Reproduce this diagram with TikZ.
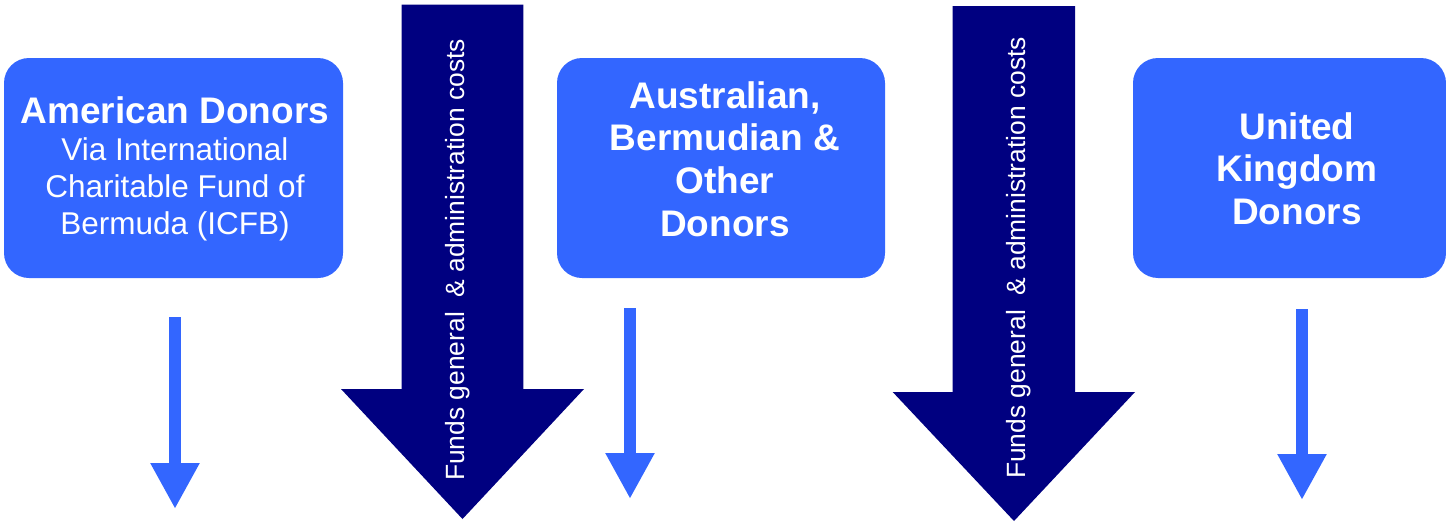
\documentclass[tikz,border=0pt]{standalone}
\usepackage{fontspec}
\setmainfont{Liberation Sans}
\usetikzlibrary{arrows.meta}
\definecolor{boxblue}{HTML}{3366FF}
\definecolor{darknavy}{HTML}{000080}
\tikzset{
  donorbox/.style={fill=boxblue, draw=none, rounded corners=25pt},
  boxtxt/.style={text=white, align=center, inner sep=0pt, anchor=north},
  bigarrow/.style={fill=darknavy, draw=none},
  arrowtxt/.style={text=white, rotate=90, inner sep=0pt, font=\fontsize{26.4}{30}\selectfont},
  smallarrow/.style={draw=boxblue, line width=11.7pt, -{Triangle[width=46pt,length=46pt]}}
}
\begin{document}
\begin{tikzpicture}[x=1pt,y=-1pt]
\useasboundingbox (0,0) rectangle (1446,522);
% donor boxes
\path[donorbox] (4,58) rectangle (343,278);
\node[boxtxt, font=\fontsize{31.5}{37}\selectfont] (t1) at (175,96)
  {{\fontsize{37}{37}\selectfont\bfseries American Donors}\\Via International\\Charitable Fund of\\Bermuda (ICFB)};
\path[donorbox] (557,58) rectangle (885,278);
\node[boxtxt, font=\fontsize{37}{42.7}\selectfont\bfseries] (t2) at (725,81)
  {Australian,\\Bermudian \&\\Other\\Donors};
\path[donorbox] (1133,58) rectangle (1446,278);
\node[boxtxt, font=\fontsize{37}{42.7}\selectfont\bfseries] (t3) at (1297,112)
  {United\\Kingdom\\Donors};
% big arrows
\fill[bigarrow] (401.7,4.5) -- (523.3,4.5) -- (523.3,389) -- (584,389) -- (462.5,519) -- (341,389) -- (401.7,389) -- cycle;
\node[arrowtxt] (a1) at (458,260) {Funds general \ \& administration costs};
\fill[bigarrow] (952.7,6) -- (1075,6) -- (1075,392) -- (1135,392) -- (1014,521) -- (892.7,392) -- (952.7,392) -- cycle;
\node[arrowtxt] (a2) at (1019,258) {Funds general \ \& administration costs};
% small arrows
\coordinate (s1) at (175,317);
\coordinate (e1) at (175,509);
\coordinate (s2) at (630,308);
\coordinate (e2) at (630,499);
\coordinate (s3) at (1302,309);
\coordinate (e3) at (1302,500);
\draw[smallarrow] (s1) -- (e1);
\draw[smallarrow] (s2) -- (e2);
\draw[smallarrow] (s3) -- (e3);
\end{tikzpicture}
\end{document}
